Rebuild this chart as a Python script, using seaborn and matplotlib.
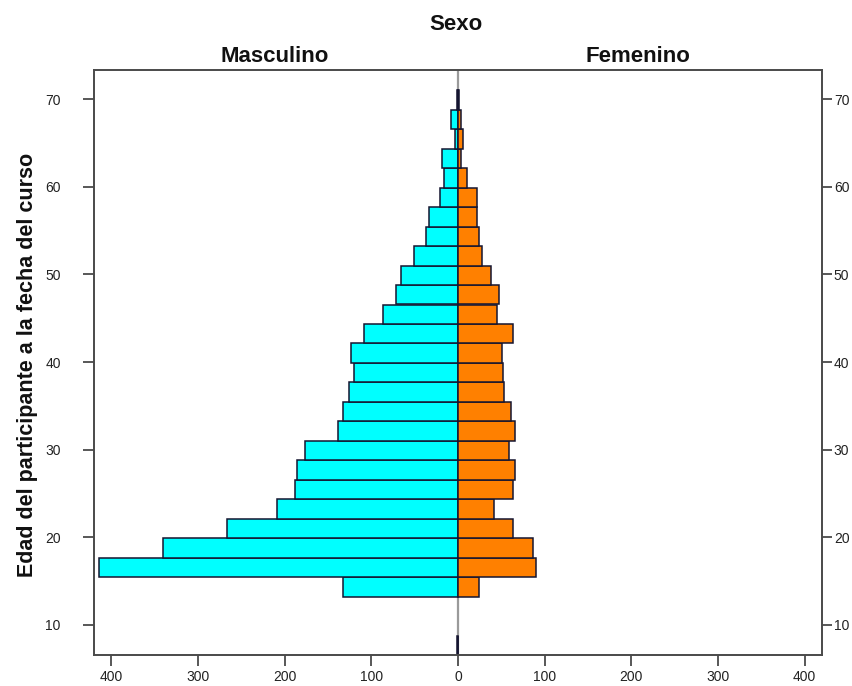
import pandas as pd
import matplotlib
matplotlib.use('Agg')
import matplotlib.pyplot as plt
import seaborn as sns

# --- Daten: Altersklassen (Mitte, Breite ~2.22 Jahre) und Anzahl pro Geschlecht ---
edad = [7.67, 14.34, 16.56, 18.79, 21.01, 23.23, 25.46, 27.68, 29.90, 32.12,
        34.35, 36.57, 38.79, 41.02, 43.24, 45.46, 47.69, 49.91, 52.13, 54.35,
        56.58, 58.80, 61.02, 63.25, 65.47, 67.69, 69.92]
masculino = [1, 133, 414, 340, 266, 209, 188, 186, 176, 138,
             133, 126, 120, 123, 108, 86, 72, 66, 51, 37,
             34, 21, 16, 19, 3, 8, 1]
femenino = [0, 24, 90, 86, 64, 41, 64, 66, 59, 66,
            61, 53, 52, 51, 63, 45, 47, 38, 28, 24,
            22, 22, 10, 3, 6, 3, 1]
xticks = [-400, -300, -200, -100, 0, 100, 200, 300, 400]
yticks = [10, 20, 30, 40, 50, 60, 70]

df = pd.DataFrame({
    'edad': edad + edad,
    'n': [-v for v in masculino] + femenino,
    'sexo': ['Masculino'] * len(edad) + ['Femenino'] * len(edad),
})

sns.set_theme(style='white')
plt.rcParams['font.family'] = ['Liberation Sans', 'DejaVu Sans']

fig = plt.figure(figsize=(8.52, 6.86), dpi=100)
ax = fig.add_axes([94 / 852, 1 - 655 / 686, 728 / 852, 585 / 686])

# graue Mittellinie
ax.axvline(0, color='#9a9a9a', lw=1.6, zorder=0)

sns.barplot(data=df, x='n', y='edad', hue='sexo', orient='y',
            native_scale=True, dodge=False, width=1, errorbar=None,
            saturation=1,
            palette={'Masculino': '#00ffff', 'Femenino': '#ff8000'},
            edgecolor='#151530', linewidth=1.1, legend=False, ax=ax)

ax.set_xlim(-420, 420)
ax.set_ylim(6.56, 73.34)
ax.set_xticks(xticks)
ax.set_xticklabels([str(abs(t)) for t in xticks])
ax.set_yticks(yticks)
ax.set_xlabel('')
ax.set_ylabel('')
for s in ax.spines.values():
    s.set_color('#4a4a4a')
    s.set_linewidth(1.4)
ax.tick_params(axis='x', bottom=True, length=8, width=1.3, color='#4a4a4a',
               pad=3, labelsize=10, labelcolor='#222222')
ax.tick_params(axis='y', left=True, length=8, width=1.3, color='#4a4a4a',
               pad=16, labelsize=10, labelcolor='#222222')

ax2 = ax.twinx()
ax2.set_ylim(ax.get_ylim())
ax2.set_yticks(yticks)
ax2.grid(False)
for s in ax2.spines.values():
    s.set_visible(False)
ax2.tick_params(axis='y', right=True, length=7, width=1.3, color='#4a4a4a',
                pad=1.5, labelsize=10, labelcolor='#222222')

fig.text(456 / 852, 1 - 25 / 686, 'Sexo', ha='center', va='center',
         fontsize=16, fontweight='bold', color='#111111')
fig.text(275 / 852, 1 - 57 / 686, 'Masculino', ha='center', va='center',
         fontsize=16, fontweight='bold', color='#111111')
fig.text(638 / 852, 1 - 57 / 686, 'Femenino', ha='center', va='center',
         fontsize=16, fontweight='bold', color='#111111')
fig.text(28 / 852, 1 - 365 / 686, 'Edad del participante a la fecha del curso',
         rotation=90, ha='center', va='center', fontsize=15.5,
         fontweight='bold', color='#111111')

fig.savefig('out.png', dpi=100)
